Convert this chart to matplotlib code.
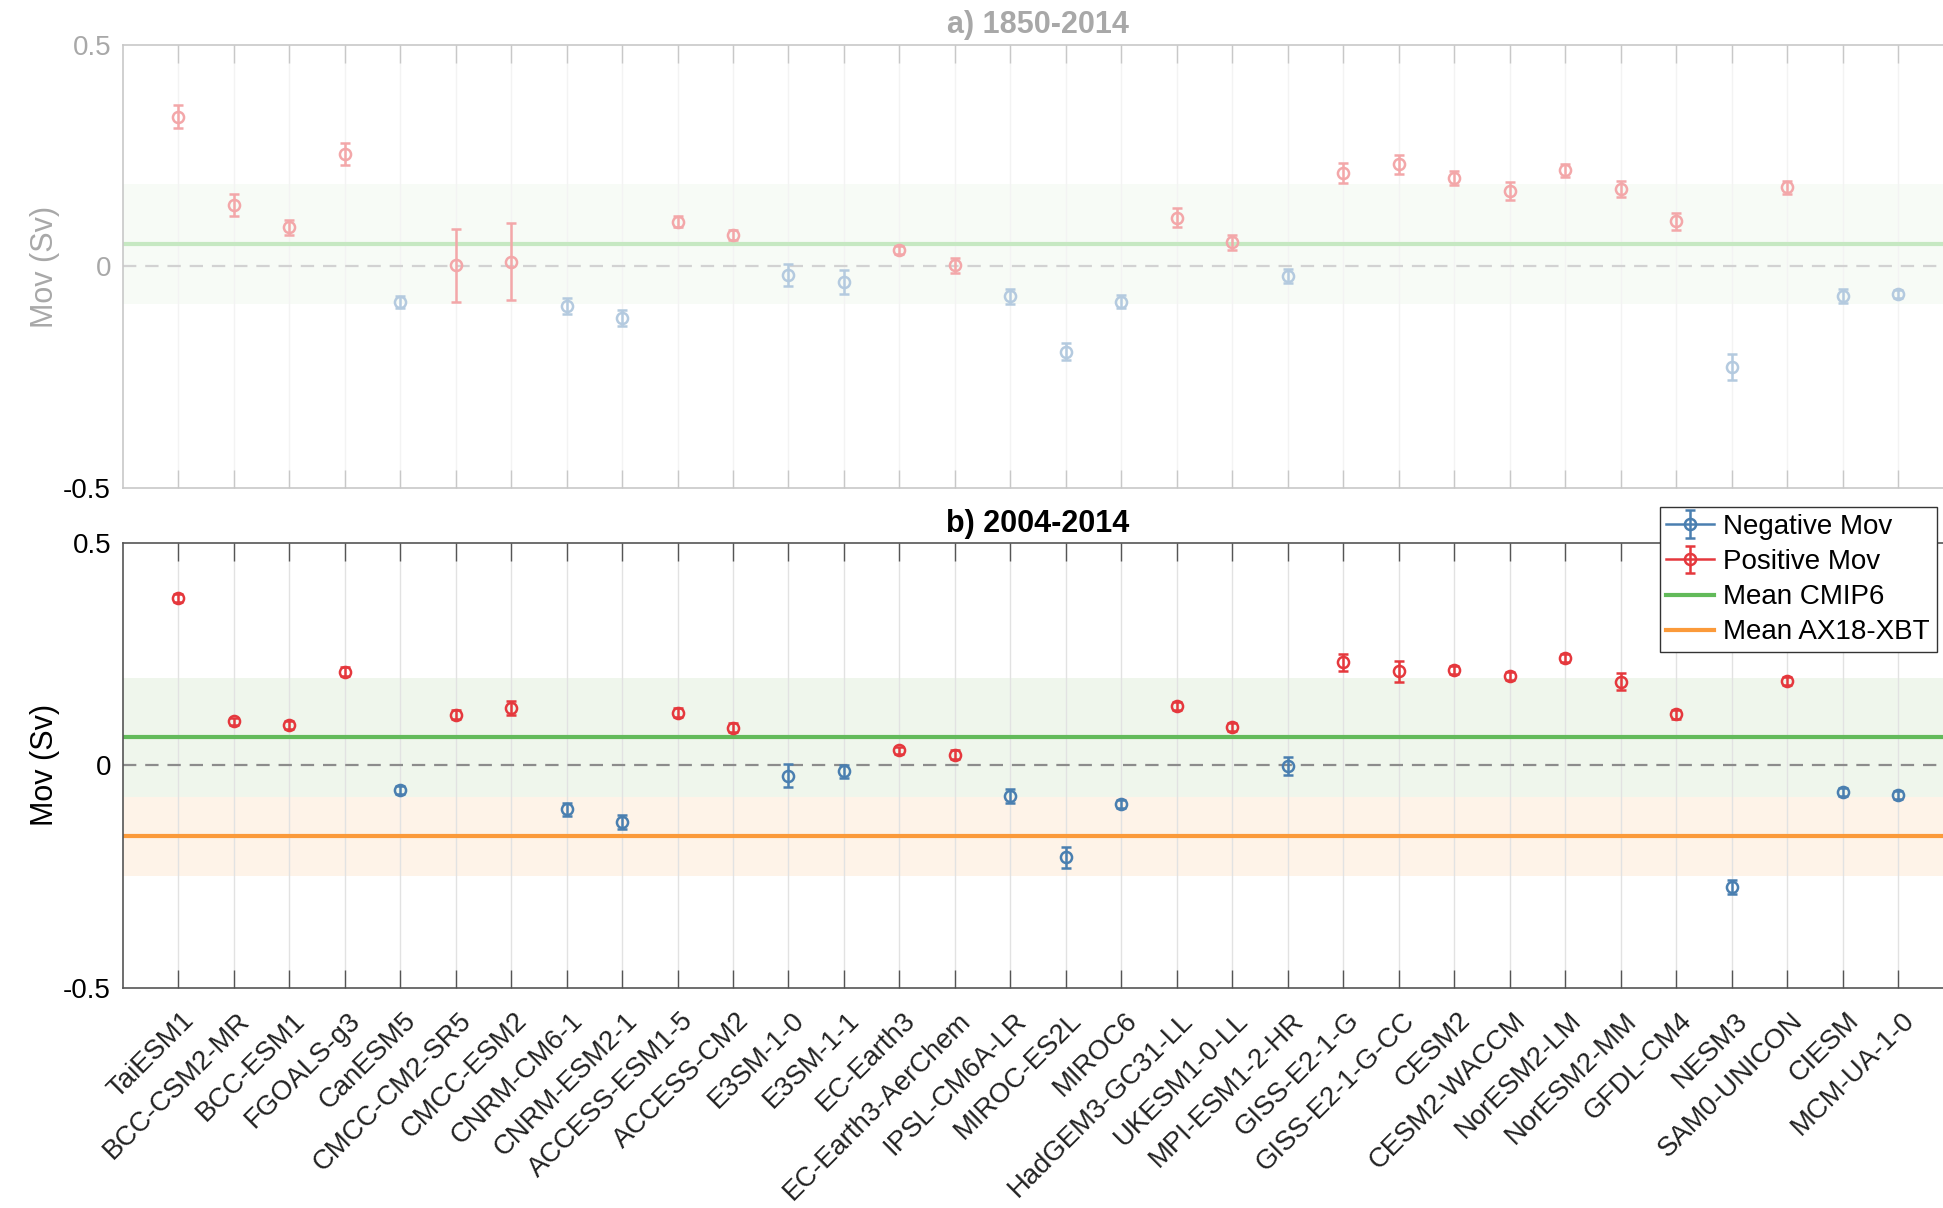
import numpy as np
import matplotlib
matplotlib.use("Agg")
import matplotlib.pyplot as plt
from matplotlib.transforms import ScaledTranslation

plt.rcParams['font.family'] = ['Liberation Sans', 'DejaVu Sans']

models = ["TaiESM1", "BCC-CSM2-MR", "BCC-ESM1", "FGOALS-g3", "CanESM5", "CMCC-CM2-SR5",
          "CMCC-ESM2", "CNRM-CM6-1", "CNRM-ESM2-1", "ACCESS-ESM1-5", "ACCESS-CM2",
          "E3SM-1-0", "E3SM-1-1", "EC-Earth3", "EC-Earth3-AerChem", "IPSL-CM6A-LR",
          "MIROC-ES2L", "MIROC6", "HadGEM3-GC31-LL", "UKESM1-0-LL", "MPI-ESM1-2-HR",
          "GISS-E2-1-G", "GISS-E2-1-G-CC", "CESM2", "CESM2-WACCM", "NorESM2-LM",
          "NorESM2-MM", "GFDL-CM4", "NESM3", "SAM0-UNICON", "CIESM", "MCM-UA-1-0"]

mov_1850 = [0.337, 0.139, 0.088, 0.253, -0.080, 0.003, 0.011, -0.089, -0.117, 0.101,
            0.071, -0.019, -0.036, 0.037, 0.003, -0.067, -0.192, -0.079, 0.110, 0.055,
            -0.022, 0.211, 0.230, 0.200, 0.170, 0.217, 0.175, 0.102, -0.226, 0.178,
            -0.067, -0.063]
err_1850 = [0.026, 0.025, 0.016, 0.025, 0.013, 0.082, 0.087, 0.019, 0.018, 0.013,
            0.012, 0.025, 0.027, 0.009, 0.017, 0.017, 0.019, 0.015, 0.021, 0.017,
            0.016, 0.022, 0.022, 0.016, 0.020, 0.015, 0.018, 0.019, 0.029, 0.015,
            0.016, 0.009]

mov_2004 = [0.376, 0.099, 0.090, 0.210, -0.055, 0.113, 0.129, -0.099, -0.128, 0.118,
            0.084, -0.024, -0.014, 0.034, 0.024, -0.069, -0.207, -0.088, 0.133, 0.086,
            -0.002, 0.231, 0.211, 0.214, 0.201, 0.241, 0.188, 0.114, -0.274, 0.190,
            -0.061, -0.068]
err_2004 = [0.009, 0.008, 0.009, 0.010, 0.009, 0.010, 0.016, 0.015, 0.015, 0.010,
            0.010, 0.026, 0.015, 0.008, 0.010, 0.015, 0.023, 0.009, 0.010, 0.009,
            0.020, 0.019, 0.023, 0.010, 0.009, 0.009, 0.019, 0.010, 0.015, 0.009,
            0.009, 0.009]

cmip6_mean_1850, cmip6_spread_1850 = 0.051, 0.135
cmip6_mean_2004, cmip6_spread_2004 = 0.063, 0.134
ax18_mean, ax18_spread = -0.160, 0.089

yticks = [-0.5, 0, 0.5]
yticklabels = ["-0.5", "0", "0.5"]

W, H = 1943, 1208
fig = plt.figure(figsize=(W / 100, H / 100), dpi=100)
left = 122.7 / W
width = 33 * 55.48 / W
ax1 = fig.add_axes([left, 1 - 488.3 / H, width, (488.3 - 44.6) / H])
ax2 = fig.add_axes([left, 1 - 987.6 / H, width, (987.6 - 542.8) / H])

x = np.arange(1, len(models) + 1)


def draw_panel(ax, mov, err, c_blue, c_red, c_green, c_green_fill, c_zero, c_grid,
               c_spine, c_text, mean, spread):
    mov = np.asarray(mov)
    err = np.asarray(err)
    neg = mov < 0
    pos = ~neg
    ax.set_xlim(0, len(models) + 1)
    ax.set_ylim(-0.5, 0.5)
    ax.axhspan(mean - spread, mean + spread, color=c_green_fill, lw=0, zorder=0)
    for xi in x:
        ax.axvline(xi, color=c_grid, lw=1.0, zorder=0.5)
    ax.axhline(0, color=c_zero, lw=1.6, ls=(0, (6, 4)), zorder=1)
    ax.axhline(mean, color=c_green, lw=3.0, zorder=2)
    kw = dict(fmt='o', mfc='none', ms=8, mew=1.8, elinewidth=1.8, capsize=3.8,
              capthick=1.8, zorder=4)
    ax.errorbar(x[neg], mov[neg], yerr=err[neg], color=c_blue, **kw)
    ax.errorbar(x[pos], mov[pos], yerr=err[pos], color=c_red, **kw)
    ax.set_xticks(x)
    ax.set_yticks(yticks)
    ax.set_yticklabels(yticklabels)
    ax.tick_params(axis='x', direction='in', length=13, width=1.0, top=True,
                   bottom=True, color=c_spine)
    ax.tick_params(axis='y', length=0, labelsize=20, pad=8.4, labelcolor=c_text)
    for s in ax.spines.values():
        s.set_color(c_spine)
        s.set_linewidth(1.2)
    ax.set_ylabel("Mov (Sv)", fontsize=22, color=c_text)
    ax.yaxis.set_label_coords(-0.034, 0.5)


# Top panel (faded)
draw_panel(ax1, mov_1850, err_1850, '#b4cadf', '#f3a7a9', '#c6e8c2', '#f7fbf6',
           '#d2d2d2', '#f3f3f3', '#c8c8c8', '#a8a8a8', cmip6_mean_1850, cmip6_spread_1850)
ax1.set_xticklabels([])
ax1.get_yticklabels()[0].set_color('black')
ax1.set_title("a) 1850-2014", fontsize=22, fontweight='bold', color='#a8a8a8', pad=8)

# Bottom panel
blue, red, green, orange = '#4a7fb0', '#e5383d', '#62ba5a', '#fb9a3a'
ax2.axhspan(ax18_mean - ax18_spread, ax18_mean + ax18_spread, color='#fef3e8', lw=0, zorder=0)
ax2.axhline(ax18_mean, color=orange, lw=3.0, zorder=2)
draw_panel(ax2, mov_2004, err_2004, blue, red, green, '#eff6ec',
           '#8c8c8c', '#e2e2e2', '#555555', 'black', cmip6_mean_2004, cmip6_spread_2004)
ax2.set_xticklabels(models, rotation=45, ha='right', va='center', rotation_mode='anchor',
                    fontsize=19.8)
ax2.tick_params(axis='x', pad=21, labelcolor='#222222')
shift = ScaledTranslation(12 / 100, 0, fig.dpi_scale_trans)
for lab in ax2.get_xticklabels():
    lab.set_transform(lab.get_transform() + shift)
ax2.set_title("b) 2004-2014", fontsize=22, fontweight='bold', color='black', pad=8)

# Legend proxies
kw = dict(fmt='-o', mfc='none', ms=8, mew=1.8, lw=1.8, elinewidth=1.8, capsize=3.8,
          capthick=1.8)
h1 = ax2.errorbar([np.nan], [np.nan], yerr=[np.nan], color=blue, label='Negative Mov', **kw)
h2 = ax2.errorbar([np.nan], [np.nan], yerr=[np.nan], color=red, label='Positive Mov', **kw)
h3, = ax2.plot([], [], color=green, lw=3.0, label='Mean CMIP6')
h4, = ax2.plot([], [], color=orange, lw=3.0, label='Mean AX18-XBT')
leg = ax2.legend(handles=[h1, h2, h3, h4], loc='upper right',
                 bbox_to_anchor=(1937 / W, 1 - 507 / H), bbox_transform=fig.transFigure,
                 fontsize=20, frameon=True, fancybox=False, framealpha=1,
                 edgecolor='#333333', borderpad=0.25, labelspacing=0.33,
                 handlelength=1.7, handletextpad=0.35, borderaxespad=0)
leg.get_frame().set_linewidth(1.0)
leg.set_zorder(10)

fig.savefig("out.png", dpi=100)
